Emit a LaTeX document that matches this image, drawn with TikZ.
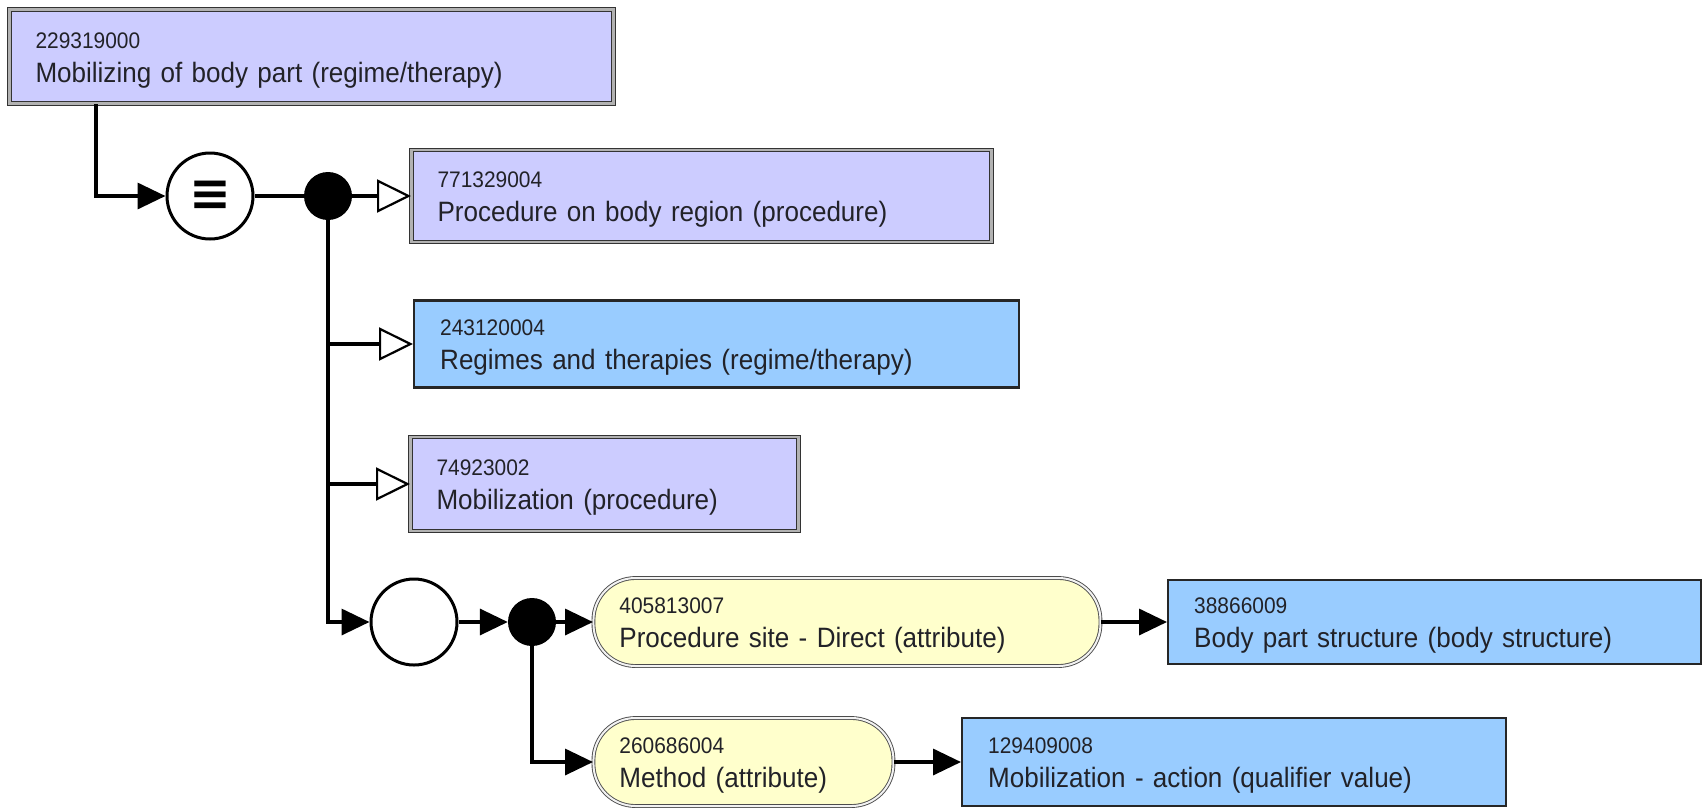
\documentclass[tikz,border=0pt]{standalone}
\usepackage{fontspec}
\setmainfont{Liberation Sans}
\newfontfamily\lsans[FakeStretch=0.93]{Liberation Sans}
\newfontfamily\djv{DejaVu Sans}
\usetikzlibrary{arrows.meta,calc}
\definecolor{lav}{RGB}{204,204,255}
\definecolor{blu}{RGB}{153,204,255}
\definecolor{yel}{RGB}{255,255,204}
\definecolor{txt}{RGB}{34,34,40}
\newcommand\idf{\fontsize{22.5}{34}\selectfont}
\newcommand\nmf{\fontsize{28}{34}\selectfont}
\newcommand\cpt[2]{\rule{0pt}{23.5pt}{\idf #1}\\{\nmf #2}}
\tikzset{
  concept/.style={rectangle, anchor=west, align=left, inner xsep=26pt, inner ysep=0pt,
    text=txt, font=\lsans\fontsize{28}{34}\selectfont},
  lavbox/.style={concept, draw=black!80, double=gray!60, double distance=2.4pt, line width=1pt, fill=lav},
  blubox/.style={concept, draw=black!85, line width=2.4pt, fill=blu},
  pill/.style={concept, rounded corners=42pt, draw=gray!60!black, double=gray!10, double distance=2pt, line width=0.9pt, fill=yel},
  conn/.style={line width=3.5pt, draw=black},
  farrow/.style={-{Triangle[length=28pt,width=26pt]}},
  oarrow/.style={-{Triangle[length=34pt,width=33pt,fill=white,line width=2.2pt]}},
  ring/.style={circle, draw=black, line width=3pt, fill=white, minimum size=86pt, inner sep=0pt},
  dot/.style={circle, fill=black, minimum size=48pt, inner sep=0pt},
}
\begin{document}
\begin{tikzpicture}[x=1pt,y=-1pt]
\useasboundingbox[fill=white] (0,0) rectangle (1704,807);

\node[lavbox, anchor=north west, minimum width=604pt, text width=552pt, minimum height=94pt] (b1) at (9,9)
  {\cpt{229319000}{Mobilizing of body part (regime/therapy)}};
\node[ring, font=\djv\bfseries\fontsize{50}{50}\selectfont] (c1) at (210,196) {≡};
\node[dot] (d1) at (328,196) {};
\node[lavbox, minimum width=580pt, text width=528pt, minimum height=92pt] (b2) at (411,196)
  {\cpt{771329004}{Procedure on body region (procedure)}};
\node[blubox, minimum width=605pt, text width=553pt, minimum height=87pt] (b3) at (413,344)
  {\cpt{243120004}{Regimes and therapies (regime/therapy)}};
\node[lavbox, minimum width=388pt, text width=336pt, minimum height=94pt] (b4) at (410,484)
  {\cpt{74923002}{Mobilization (procedure)}};
\node[ring] (c2) at (414,622) {};
\node[dot] (d2) at (532,622) {};
\node[pill, minimum width=507pt, text width=455pt, minimum height=88pt] (p1) at (593,622)
  {\cpt{405813007}{Procedure site - Direct (attribute)}};
\node[blubox, minimum width=533pt, text width=481pt, minimum height=84pt] (b5) at (1167,622)
  {\cpt{38866009}{Body part structure (body structure)}};
\node[pill, minimum width=300pt, text width=248pt, minimum height=88pt] (p2) at (593,762)
  {\cpt{260686004}{Method (attribute)}};
\node[blubox, minimum width=544pt, text width=492pt, minimum height=88pt] (b6) at (961,762)
  {\cpt{129409008}{Mobilization - action (qualifier value)}};

\draw[conn, farrow] ($(b1.south west)+(87,0)$) |- (c1.west);
\draw[conn] (c1.east) -- (d1.west);
\draw[conn, oarrow] (d1.east) -- (b2.west);
\draw[conn, farrow] (d1.south) |- (c2.west);
\draw[conn, oarrow] (d1.south |- b3.west) -- (b3.west);
\draw[conn, oarrow] (d1.south |- b4.west) -- (b4.west);
\draw[conn, farrow] (c2.east) -- (d2.west);
\draw[conn, farrow] (d2.east) -- (p1.west);
\draw[conn, farrow] (d2.south) |- (p2.west);
\draw[conn, farrow] (p1.east) -- (b5.west);
\draw[conn, farrow] (p2.east) -- (b6.west);
\end{tikzpicture}
\end{document}
